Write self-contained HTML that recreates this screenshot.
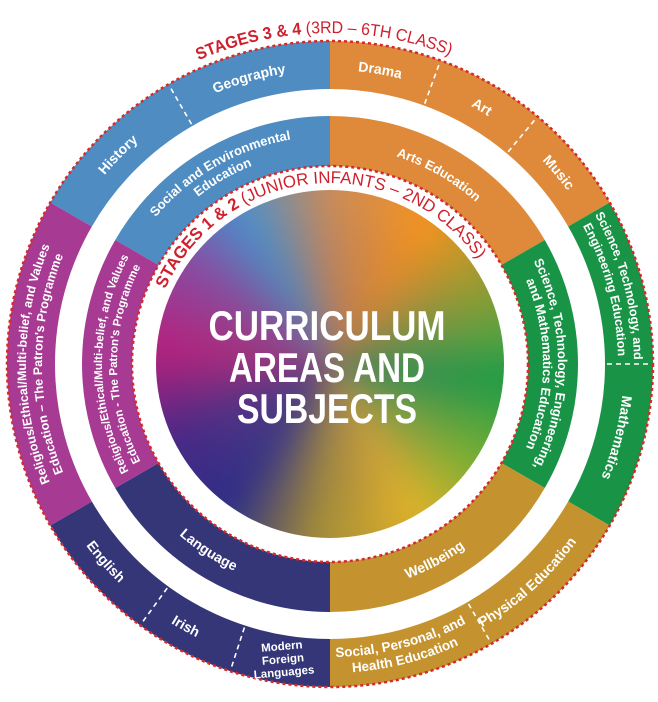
<!DOCTYPE html>
<html><head><meta charset="utf-8"><style>
html,body{margin:0;padding:0;background:#fff;}
#wrap{position:relative;width:658px;height:702px;overflow:hidden;}
#grad{position:absolute;left:156px;top:190px;width:348px;height:348px;border-radius:50%;overflow:hidden;}
#grad .c{position:absolute;left:-40px;top:-40px;width:428px;height:428px;
background:conic-gradient(from 0deg,#c98a5a 0deg,#f39220 35deg,#5aa040 80deg,#1e9a48 95deg,#7fae35 125deg,#e0b12a 150deg,#a08a3a 185deg,#2e2f86 215deg,#4a2a86 245deg,#b5227d 275deg,#8a4aa0 305deg,#4b8fcb 330deg,#c98a5a 360deg);filter:blur(14px);}
#grad .r{position:absolute;left:0;top:0;width:348px;height:348px;background:radial-gradient(circle at 50% 50%,rgba(120,95,120,0.5) 0,rgba(120,95,120,0.2) 35%,rgba(0,0,0,0) 65%);}
svg{position:absolute;left:0;top:0;}
.w{fill:#fff;font-family:"Liberation Sans",sans-serif;font-weight:bold;}
</style></head><body><div id="wrap">
<div id="grad"><div class="c"></div><div class="r"></div></div>
<svg width="658" height="702" viewBox="0 0 658 702">
<defs>
<path id="cw294" d="M330,658 A294,294 0 0 1 330,70 A294,294 0 0 1 330,658"/>
<path id="cw304" d="M330,668 A304,304 0 0 1 330,60 A304,304 0 0 1 330,668"/>
<path id="cw288" d="M330,652 A288,288 0 0 1 330,76 A288,288 0 0 1 330,652"/>
<path id="ccw304" d="M330,60 A304,304 0 0 0 330,668 A304,304 0 0 0 330,60"/>
<path id="ccw293" d="M330,71 A293,293 0 0 0 330,657 A293,293 0 0 0 330,71"/>
<path id="ccw309" d="M330,55 A309,309 0 0 0 330,673 A309,309 0 0 0 330,55"/>
<path id="cw218" d="M330,582 A218,218 0 0 1 330,146 A218,218 0 0 1 330,582"/>
<path id="cw228" d="M330,592 A228,228 0 0 1 330,136 A228,228 0 0 1 330,592"/>
<path id="cw213" d="M330,577 A213,213 0 0 1 330,151 A213,213 0 0 1 330,577"/>
<path id="ccw228" d="M330,136 A228,228 0 0 0 330,592 A228,228 0 0 0 330,136"/>
<path id="cw331" d="M330,695 A331,331 0 0 1 330,33 A331,331 0 0 1 330,695"/>
<path id="cw181" d="M330,545 A181,181 0 0 1 330,183 A181,181 0 0 1 330,545"/>
</defs>
<g fill="none" stroke-width="48">
<path d="M71.05,214.5 A299,299 0 0 1 330,65" stroke="#4e8cc2"/>
<path d="M330,65 A299,299 0 0 1 588.95,214.5" stroke="#de8a3a"/>
<path d="M588.95,214.5 A299,299 0 0 1 588.95,513.5" stroke="#199447"/>
<path d="M588.95,513.5 A299,299 0 0 1 330,663" stroke="#c4932f"/>
<path d="M330,663 A299,299 0 0 1 71.05,513.5" stroke="#343678"/>
<path d="M71.05,513.5 A299,299 0 0 1 71.05,214.5" stroke="#a73a92"/>
</g>
<g fill="none" stroke-width="50">
<path d="M136.88,252.5 A223,223 0 0 1 330,141" stroke="#4e8cc2"/>
<path d="M330,141 A223,223 0 0 1 523.12,252.5" stroke="#de8a3a"/>
<path d="M523.12,252.5 A223,223 0 0 1 523.12,475.5" stroke="#199447"/>
<path d="M523.12,475.5 A223,223 0 0 1 330,587" stroke="#c4932f"/>
<path d="M330,587 A223,223 0 0 1 136.88,475.5" stroke="#343678"/>
<path d="M136.88,475.5 A223,223 0 0 1 136.88,252.5" stroke="#a73a92"/>
</g>
<g stroke="#fff" stroke-width="1.6" stroke-dasharray="5 4">
<line x1="424.7" y1="103.7" x2="439.8" y2="62.4"/>
<line x1="508.1" y1="151.8" x2="536.3" y2="118.1"/>
<line x1="607" y1="364" x2="651" y2="364"/>
<line x1="468.5" y1="603.9" x2="490.5" y2="642"/>
<line x1="244.4" y1="627.5" x2="230.8" y2="669.3"/>
<line x1="167.2" y1="588.1" x2="141.3" y2="623.7"/>
<line x1="191.5" y1="124.1" x2="169.5" y2="86"/>
</g>
<circle cx="330" cy="364" r="323" fill="none" stroke="#d42a2a" stroke-width="2.5" stroke-dasharray="3 3"/>
<circle cx="330" cy="364" r="198" fill="none" stroke="#d42a2a" stroke-width="2.5" stroke-dasharray="3 3"/>

<g class="w" font-size="14" text-anchor="middle">
<text><textPath href="#cw294" startOffset="37.4%">History</textPath></text>
<text><textPath href="#cw294" startOffset="45.6%">Geography</textPath></text>
<text><textPath href="#cw294" startOffset="52.7%">Drama</textPath></text>
<text><textPath href="#cw294" startOffset="58.5%">Art</textPath></text>
<text><textPath href="#cw294" startOffset="63.9%">Music</textPath></text>
<text><textPath href="#cw294" startOffset="79%">Mathematics</textPath></text>
<text><textPath href="#ccw304" startOffset="61.7%">Physical Education</textPath></text>
<text><textPath href="#ccw304" startOffset="42%">Irish</textPath></text>
<text><textPath href="#ccw304" startOffset="36.5%">English</textPath></text>
</g>
<g class="w" font-size="12.5" text-anchor="middle">
<text><textPath href="#cw304" startOffset="70.8%">Science, Technology, and</textPath></text>
<text><textPath href="#cw288" startOffset="70.8%">Engineering Education</textPath></text>
<text><textPath href="#cw304" startOffset="25%">Religious/Ethical/Multi-belief, and Values</textPath></text>
<text><textPath href="#cw288" startOffset="25%">Education – The Patron's Programme</textPath></text>
<text font-size="13.5"><textPath href="#ccw293" startOffset="54%">Social, Personal, and</textPath></text>
<text font-size="13.5"><textPath href="#ccw309" startOffset="54%">Health Education</textPath></text>
</g>
<g class="w" font-size="11.5" text-anchor="middle" transform="rotate(-5 283 660)">
<text x="283" y="650">Modern</text>
<text x="283" y="663">Foreign</text>
<text x="283" y="676">Languages</text>
</g>
<g class="w" font-size="13" text-anchor="middle">
<text><textPath href="#cw218" startOffset="58.3%">Arts Education</textPath></text>
<text><textPath href="#cw228" startOffset="41.7%">Social and Environmental</textPath></text>
<text><textPath href="#cw213" startOffset="41.7%">Education</textPath></text>
<text><textPath href="#cw228" startOffset="75%">Science, Technology, Engineering,</textPath></text>
<text><textPath href="#cw213" startOffset="75%">and Mathematics Education</textPath></text>
<text font-size="11.5"><textPath href="#cw228" startOffset="25%">Religious/Ethical/Multi-belief, and Values</textPath></text>
<text font-size="11.5"><textPath href="#cw213" startOffset="25%">Education - The Patron's Programme</textPath></text>
<text font-size="14"><textPath href="#ccw228" startOffset="57.8%">Wellbeing</textPath></text>
<text font-size="14"><textPath href="#ccw228" startOffset="40.8%">Language</textPath></text>
</g>
<text font-family="Liberation Sans,sans-serif" font-size="17" fill="#d0202e" text-anchor="middle"><textPath href="#cw331" startOffset="49.7%" textLength="258" lengthAdjust="spacingAndGlyphs"><tspan font-weight="bold">STAGES 3 &amp; 4</tspan> (3RD – 6TH CLASS)</textPath></text>
<text font-family="Liberation Sans,sans-serif" font-size="17" fill="#d0202e" text-anchor="middle"><textPath href="#cw181" startOffset="48.5%" textLength="380" lengthAdjust="spacingAndGlyphs"><tspan font-weight="bold">STAGES 1 &amp; 2</tspan> (JUNIOR INFANTS – 2ND CLASS)</textPath></text>
<g class="w" font-size="42" text-anchor="middle">
<text x="327" y="340" textLength="237" lengthAdjust="spacingAndGlyphs">CURRICULUM</text>
<text x="327" y="382" textLength="196" lengthAdjust="spacingAndGlyphs">AREAS AND</text>
<text x="327" y="423" textLength="180" lengthAdjust="spacingAndGlyphs">SUBJECTS</text>
</g>
</svg>
</div></body></html>
